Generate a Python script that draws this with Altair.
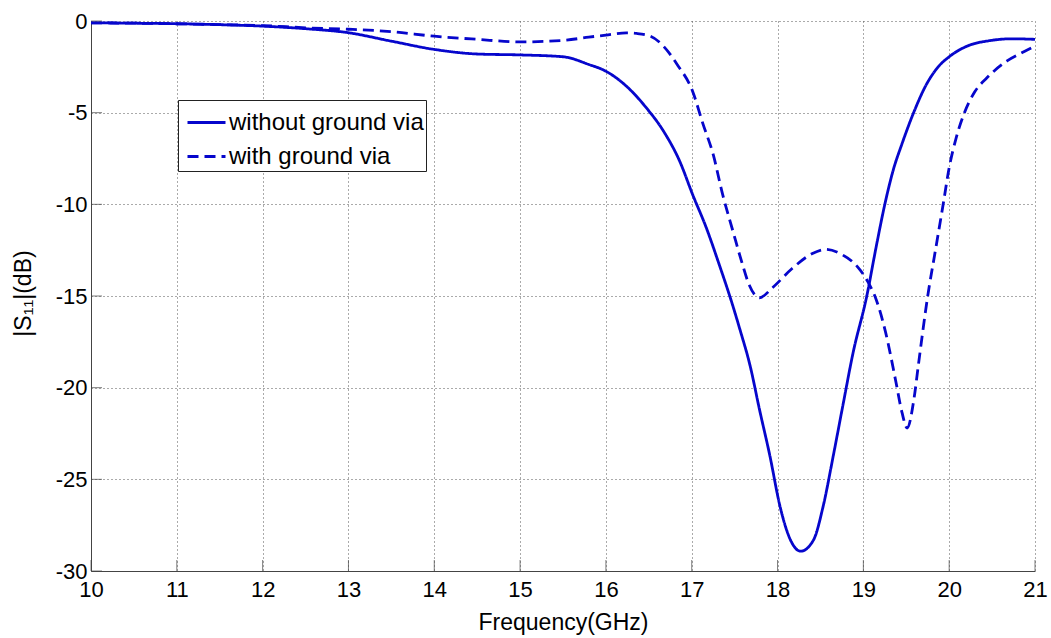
import altair as alt
import pandas as pd

# ---- data ----
series_names = ["without ground via", "with ground via"]

freq_without = [10.0, 10.5, 11.0, 11.5, 12.0, 12.5, 13.0, 13.5, 14.0, 14.5, 15.0, 15.5, 15.8,
                16.0, 16.24, 16.47, 16.67, 16.86, 17.01, 17.17, 17.32, 17.47, 17.56, 17.68,
                17.79, 17.91, 18.03, 18.15, 18.27, 18.42, 18.53, 18.65, 18.76, 18.88, 19.04,
                19.15, 19.25, 19.35, 19.45, 19.59, 19.73, 19.88, 20.0, 20.23, 20.46, 20.73, 21.0]
s11_without = [-0.10, -0.12, -0.15, -0.20, -0.28, -0.42, -0.64, -1.10, -1.55, -1.80, -1.85, -1.95, -2.37,
               -2.74, -3.56, -4.73, -6.0, -7.65, -9.46, -11.28, -13.28, -15.4, -16.8, -18.8,
               -21.2, -23.7, -26.5, -28.3, -28.92, -28.3, -26.5, -23.7, -21.0, -18.1, -15.0,
               -12.3, -10.0, -8.1, -6.7, -4.95, -3.5, -2.46, -1.95, -1.33, -1.08, -0.97, -1.0]

freq_with = [10.0, 10.5, 11.0, 11.5, 12.0, 12.5, 13.0, 13.5, 14.0, 14.5, 15.0, 15.5, 15.8,
             16.0, 16.24, 16.36, 16.52, 16.67, 16.83, 17.01, 17.13, 17.25, 17.36, 17.48,
             17.58, 17.67, 17.79, 17.94, 18.17, 18.4, 18.56, 18.75, 18.93, 19.05, 19.15,
             19.26, 19.38, 19.45, 19.51, 19.59, 19.64, 19.75, 19.84, 19.93, 20.0, 20.08,
             20.17, 20.3, 20.44, 20.67, 20.87, 21.0]
s11_with = [-0.10, -0.12, -0.15, -0.20, -0.25, -0.37, -0.45, -0.58, -0.83, -1.00, -1.14, -1.06, -0.88,
            -0.77, -0.65, -0.68, -0.83, -1.37, -2.37, -3.83, -5.6, -7.28, -9.46, -11.46,
            -13.1, -14.4, -15.1, -14.55, -13.5, -12.7, -12.46, -12.74, -13.4, -14.2, -15.2,
            -17.0, -19.7, -21.35, -22.2, -20.6, -18.8, -15.0, -12.5, -10.0, -8.0, -6.4,
            -5.1, -3.85, -3.1, -2.19, -1.68, -1.37]

x_ticks = [10, 11, 12, 13, 14, 15, 16, 17, 18, 19, 20, 21]
y_ticks = [-30, -25, -20, -15, -10, -5, 0]

df = pd.concat([
    pd.DataFrame({"freq": freq_without, "s11": s11_without, "series": series_names[0],
                  "idx": list(range(len(freq_without)))}),
    pd.DataFrame({"freq": freq_with, "s11": s11_with, "series": series_names[1],
                  "idx": list(range(len(freq_with)))}),
], ignore_index=True)

W, H = 944, 550
BLUE = "#0606cc"
FONT = "Liberation Sans"
AXC = "#444444"
X_TITLE = "Frequency(GHz)"
Y_TITLE = "|S₁₁|(dB)"

x_scale = alt.Scale(domain=[10, 21], nice=False, zero=False)
y_scale = alt.Scale(domain=[-30, 0], nice=False, zero=False)

x_axis = alt.Axis(values=x_ticks, title=X_TITLE, labelPadding=8, titleY=51, titleBaseline="middle",
                  labelExpr="'' + datum.value")
y_axis = alt.Axis(values=y_ticks, title=Y_TITLE, labelPadding=4, titleX=-68, titleY=272,
                  titleBaseline="middle", titleAngle=270, labelExpr="'' + datum.value")

lines = alt.Chart(df).mark_line(color=BLUE, strokeWidth=2.8, interpolate="monotone").encode(
    x=alt.X("freq:Q", scale=x_scale, axis=x_axis),
    y=alt.Y("s11:Q", scale=y_scale, axis=y_axis),
    strokeDash=alt.StrokeDash(
        "series:N",
        scale=alt.Scale(domain=series_names, range=[[1, 0], [11, 6]]),
        legend=alt.Legend(
            title=None, orient="none", legendX=87, legendY=79,
            symbolType="stroke", symbolStrokeColor=BLUE, symbolStrokeWidth=2.8,
            symbolSize=1444, symbolOffset=6,
            labelFont=FONT, labelFontSize=24, labelColor="black", labelOffset=2,
            labelLimit=400,
            rowPadding=1, padding=2, strokeColor="#222222", fillColor="white",
            cornerRadius=0,
        ),
    ),
    order="idx:Q",
)

xt = alt.Chart(pd.DataFrame({"freq": x_ticks})).mark_tick(
    color=AXC, thickness=1, size=11, yOffset=-5.5
).encode(x=alt.X("freq:Q", scale=x_scale, axis=x_axis), y=alt.value(H))

yt = alt.Chart(pd.DataFrame({"s11": y_ticks})).mark_tick(
    color=AXC, thickness=1, size=11, xOffset=5.5
).encode(y=alt.Y("s11:Q", scale=y_scale, axis=y_axis), x=alt.value(0))

chart = alt.layer(lines, xt, yt).properties(
    width=W, height=H,
    padding={"left": 91, "top": 21, "right": 16, "bottom": 67},
    autosize=alt.AutoSizeParams(type="none"),
    background="white",
).configure_view(
    strokeWidth=0
).configure_axis(
    grid=True, gridDash=[1, 3], gridColor="#555555", gridWidth=1, gridOpacity=1,
    ticks=False, domainColor=AXC, domainWidth=1,
    labelFont=FONT, labelFontSize=22, labelColor="black", labelFlush=False,
    titleFont=FONT, titleFontSize=23, titleFontWeight="normal", titleColor="black",
)

chart.save("out.html", embed_options={"renderer": "svg", "actions": False})
